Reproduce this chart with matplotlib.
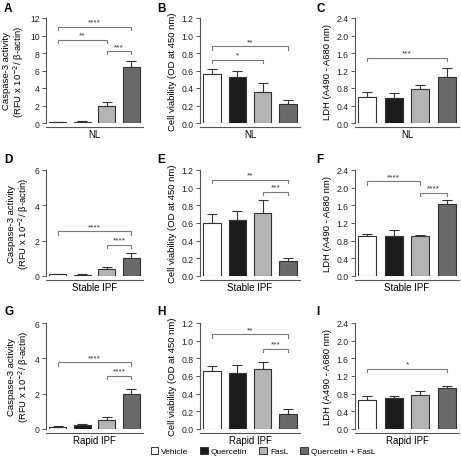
import matplotlib
matplotlib.use("Agg")
import matplotlib.pyplot as plt
import numpy as np

plt.rcParams['font.family'] = ['Liberation Sans', 'DejaVu Sans']

groups = ["Vehicle", "Quercetin", "FasL", "Quercetin + FasL"]
bar_colors = ["#ffffff", "#1c1c1c", "#b4b4b4", "#6a6a6a"]

cond_labels = ["NL", "Stable IPF", "Rapid IPF"]

# Caspase-3 activity
casp_mean = [[0.10, 0.15, 1.94, 6.40],
             [0.10, 0.08, 0.38, 1.04],
             [0.11, 0.23, 0.50, 2.00]]
casp_err = [[0.02, 0.03, 0.45, 0.67],
            [0.01, 0.05, 0.12, 0.29],
            [0.04, 0.04, 0.17, 0.29]]
# Cell viability
via_mean = [[0.56, 0.53, 0.35, 0.22],
            [0.60, 0.63, 0.71, 0.17],
            [0.66, 0.63, 0.68, 0.17]]
via_err = [[0.06, 0.06, 0.11, 0.04],
           [0.10, 0.11, 0.15, 0.03],
           [0.05, 0.10, 0.08, 0.06]]
# LDH
ldh_mean = [[0.59, 0.57, 0.77, 1.05],
            [0.91, 0.91, 0.91, 1.64],
            [0.66, 0.70, 0.78, 0.92]]
ldh_err = [[0.12, 0.11, 0.10, 0.20],
           [0.05, 0.13, 0.01, 0.08],
           [0.09, 0.05, 0.07, 0.05]]

# significance brackets: (i, j, height, label)
casp_sig = [[(0, 3, 11.0, "****"), (0, 2, 9.5, "**"), (2, 3, 8.2, "***")],
            [(0, 3, 2.52, "****"), (2, 3, 1.76, "****")],
            [(0, 3, 3.77, "****"), (2, 3, 3.0, "****")]]
via_sig = [[(0, 3, 0.875, "**"), (0, 2, 0.72, "*")],
           [(0, 3, 1.09, "**"), (2, 3, 0.95, "***")],
           [(0, 3, 1.07, "**"), (2, 3, 0.91, "***")]]
ldh_sig = [[(0, 3, 1.49, "***")],
           [(0, 2, 2.14, "****"), (2, 3, 1.89, "****")],
           [(0, 3, 1.36, "*")]]

casp_ylim = [(12, [0, 2, 4, 6, 8, 10, 12], "{:.0f}"),
             (6, [0, 2, 4, 6], "{:.0f}"),
             (6, [0, 2, 4, 6], "{:.0f}")]
via_ylim = (1.2, [0, 0.2, 0.4, 0.6, 0.8, 1.0, 1.2], "{:.1f}")
ldh_ylim = (2.4, [0, 0.4, 0.8, 1.2, 1.6, 2.0, 2.4], "{:.1f}")

casp_label = "Caspase-3 activity\n(RFU x 10$^{-2}$/ β-actin)"
via_label = "Cell viability (OD at 450 nm)"
ldh_label = "LDH (A490 - A680 nm)"

W, H = 461, 460
fig = plt.figure(figsize=(W / 100, H / 100), dpi=100)

col_left = [46, 200, 355]
col_width = [97, 100, 104]
row_top = [19, 171, 324]
row_zero = [124, 277, 430]

letters = [["A", "B", "C"], ["D", "E", "F"], ["G", "H", "I"]]
letter_pos = [[(4, 9), (157, 9), (316, 9)],
              [(4, 160), (157, 160), (316, 160)],
              [(4, 312), (157, 312), (316, 312)]]

axis_col = "#555555"
brk_col = "#7a7a7a"
x = np.arange(4)


def draw(ax, means, errs, ymax, ticks, fmt, ylabel, sigs, cond):
    ax.bar(x, means, width=0.68, color=bar_colors, edgecolor="#333333",
           linewidth=0.8, zorder=2)
    for xi, m, e in zip(x, means, errs):
        ax.errorbar(xi, m, yerr=[[0], [e]], fmt="none", ecolor="#333333",
                    elinewidth=0.8, capsize=3.5, capthick=0.8, zorder=1)
    ax.set_xlim(-0.47, 3.47)
    ax.set_ylim(0, ymax)
    ax.set_yticks(ticks)
    ax.set_yticklabels([fmt.format(t) for t in ticks])
    ax.set_xticks([1.5])
    ax.set_xticklabels([cond])
    ax.tick_params(axis="x", length=0, labelsize=7, pad=1.5)
    ax.tick_params(axis="y", length=3, width=0.7, color=axis_col,
                   labelsize=6.2, pad=1.5, labelcolor="#222222")
    for s in ["top", "right"]:
        ax.spines[s].set_visible(False)
    ax.spines["left"].set_color(axis_col)
    ax.spines["left"].set_linewidth(0.8)
    ax.spines["bottom"].set_color(axis_col)
    ax.spines["bottom"].set_linewidth(0.8)
    ax.spines["bottom"].set_position(("outward", 3))
    ax.set_ylabel(ylabel, fontsize=6.8, labelpad=3, linespacing=1.0)
    d = ymax * 0.03
    for i, j, h, lab in sigs:
        ax.plot([i, i, j, j], [h - d, h, h, h - d], color=brk_col,
                lw=0.8, clip_on=False, zorder=3)
        ax.text((i + j) / 2, h + ymax * 0.012, lab, ha="center", va="bottom",
                fontsize=6, color="#333333")


for r in range(3):
    for c in range(3):
        left = col_left[c] / W
        bottom = 1 - row_zero[r] / H
        height = (row_zero[r] - row_top[r]) / H
        ax = fig.add_axes([left, bottom, col_width[c] / W, height])
        if c == 0:
            ymax, ticks, fmt = casp_ylim[r]
            draw(ax, casp_mean[r], casp_err[r], ymax, ticks, fmt, casp_label,
                 casp_sig[r], cond_labels[r])
        elif c == 1:
            ymax, ticks, fmt = via_ylim
            draw(ax, via_mean[r], via_err[r], ymax, ticks, fmt, via_label,
                 via_sig[r], cond_labels[r])
        else:
            ymax, ticks, fmt = ldh_ylim
            draw(ax, ldh_mean[r], ldh_err[r], ymax, ticks, fmt, ldh_label,
                 ldh_sig[r], cond_labels[r])
        lx, ly = letter_pos[r][c]
        fig.text(lx / W, 1 - ly / H, letters[r][c], fontsize=8.5,
                 fontweight="bold", ha="left", va="center")

handles = [plt.Rectangle((0, 0), 1, 1, facecolor=col, edgecolor="#333333",
                         linewidth=0.7) for col in bar_colors]
fig.legend(handles, groups, loc="center", bbox_to_anchor=(263 / W, 1 - 452 / H),
           ncol=4, frameon=False, fontsize=6, handlelength=0.9,
           handleheight=0.9, handletextpad=0.4, columnspacing=1.4,
           borderpad=0)

fig.savefig("out.png", dpi=100)
